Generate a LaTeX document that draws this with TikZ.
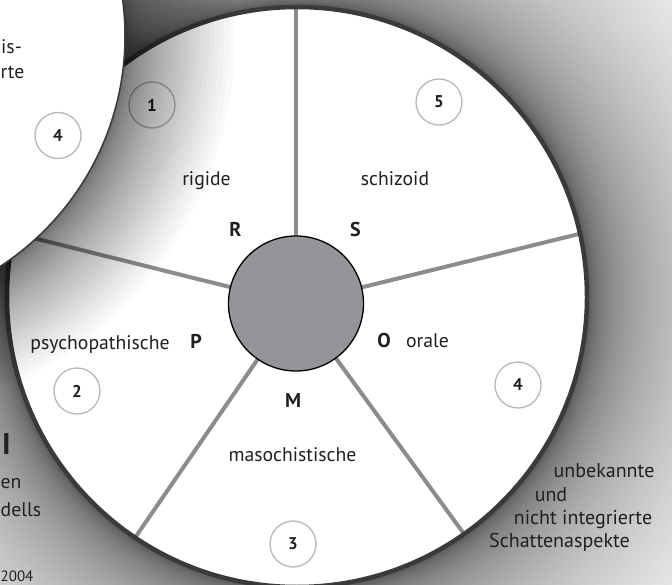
\documentclass[tikz,border=0pt]{standalone}
\usepackage{fontspec}
\setmainfont{PT Sans}
\usepackage{tikz}

\definecolor{rimgray}{HTML}{3A3A3A}
\definecolor{spokegray}{HTML}{8C8C8E}
\definecolor{hubgray}{HTML}{949598}
\definecolor{ringgray}{HTML}{B8B8B8}
\definecolor{txt}{HTML}{231F20}

\begin{document}
\begin{tikzpicture}[x=1pt, y=-1pt,
	every node/.style={text=txt, inner sep=0pt},
	lab/.style={font=\fontsize{19.7}{22}\selectfont},
	letter/.style={font=\fontsize{20}{22}\selectfont\bfseries},
	note/.style={font=\fontsize{20}{22}\selectfont},
	numc/.style={circle, draw=ringgray, line width=1.3, minimum size=46, font=\fontsize{17}{20}\selectfont\bfseries},
	spoke/.style={draw=spokegray, line width=4}]
	\useasboundingbox (0,0) rectangle (672,585);
	\clip (0,0) rectangle (672,585);
	\coordinate (big) at (297,297);
	\coordinate (small) at (-150,36);
	\fill[black!8] (0,0) rectangle (672,585);
	% dark halo round the wheel
	\foreach \i in {0,...,100} {
		\pgfmathsetmacro\d{200*(1-\i/100)^2}
		\pgfmathsetmacro\k{8+64*(0.75*\i/100+0.25*(\i/100)^2)}
		\fill[black!\k] (big) circle (290+\d);
	}
	% wheel
	\fill[white] (big) circle (290);
	\begin{scope}
		\clip (big) circle (290);
		\coordinate (hubc) at (296,303.5);
		\foreach \a in {-90,-13.8,53.9,124.5,194} {\draw[spoke] (hubc) -- ++(\a:320);}
	\end{scope}
	\draw[rimgray, line width=4.5] (big) circle (290);
	\node[circle, fill=hubgray, draw=black, line width=1.3, minimum size=135] (hub) at (hubc) {};
	% sectors
	\node[lab, anchor=base] (rigide) at (206.5,186) {rigide};
	\node[lab, anchor=base] (schizoid) at (395,186) {schizoid};
	\node[lab, anchor=base] (psycho) at (100,349) {psychopathische};
	\node[lab, anchor=base] (orale) at (427.5,347) {orale};
	\node[lab, anchor=base] (maso) at (292.5,461) {masochistische};
	\foreach \n/\t/\x/\y in {R/R/235.5/237, S/S/355.5/237, P/P/196/348.5, O/O/384/347.5, M/M/293/407}
		{\node[letter, anchor=base] (\n) at (\x,\y) {\t};}
	\foreach \n/\t/\x/\y in {n1/1/152/105, n5/5/439/102, n4/4/518/385, n3/3/293/544, n2/2/77/391}
		{\node[numc] (\n) at (\x,\y) {\t};}
	% shadow of the front disc
	\foreach \i in {1,...,40} {
		\pgfmathsetmacro\d{110*(\i/40)^2}
		\fill[black, opacity=0.018] (small) circle (275+\d);
	}
	\fill[white] (small) circle (275);
	\draw[rimgray, line width=1.5] (small) circle (275);
	\node[numc] (n4a) at (58,135.5) {4};
	\node[lab, anchor=base west] (isx) at (1,54) {is-};
	\node[lab, anchor=base west] (rte) at (0.5,79) {rte};
	% texts outside the wheel
	\node[font=\fontsize{30}{32}\selectfont\bfseries, anchor=base west] (bigI) at (2,454) {I};
	\node[lab, anchor=base west] (en) at (0.5,488) {en};
	\node[lab, anchor=base west] (dells) at (0.5,516) {dells};
	\node[font=\fontsize{15}{18}\selectfont, anchor=base west] (year) at (0.5,581) {2004};
	\node[note, anchor=base] (l1) at (604,477) {unbekannte};
	\node[note, anchor=base] (l2) at (551,501) {und};
	\node[note, anchor=base] (l3) at (583,524) {nicht integrierte};
	\node[note, anchor=base] (l4) at (559.5,547) {Schattenaspekte};
\end{tikzpicture}
\end{document}
